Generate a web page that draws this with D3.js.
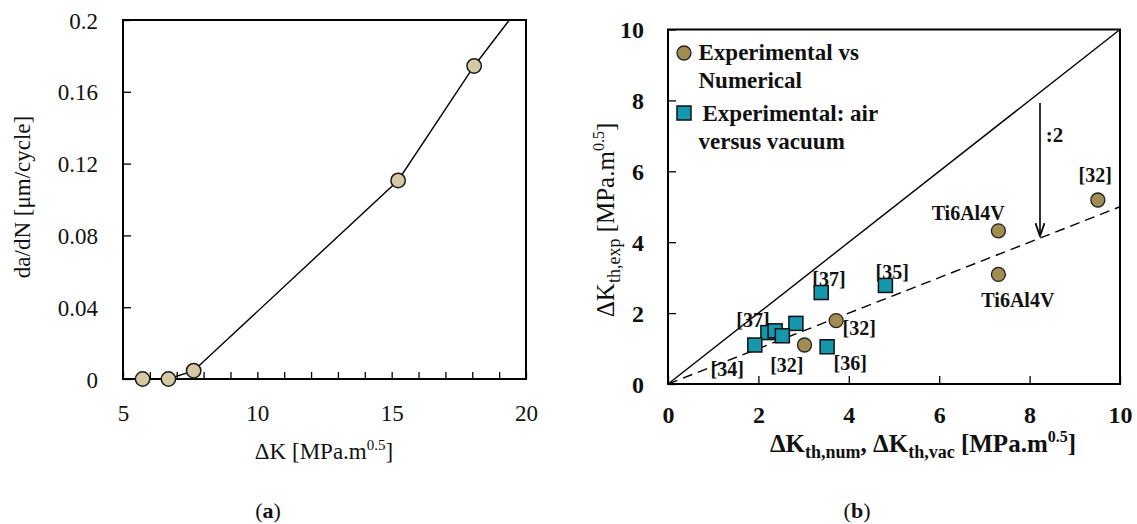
<!DOCTYPE html>
<html>
<head>
<meta charset="utf-8">
<script src="https://cdn.jsdelivr.net/npm/d3@7"></script>
<style>
  html, body { margin: 0; padding: 0; background: #fff; }
  svg { display: block; font-family: "Liberation Serif", "Times New Roman", serif; }
</style>
</head>
<body>
<svg id="fig" width="1137" height="524"></svg>
<script>
// ---- (a) crack growth rate vs stress intensity range ----
const growthDeltaK = [5.73, 6.69, 7.63, 15.24, 18.07];
const growthRate   = [0, 0, 0.0046, 0.1106, 0.1744];
// fitted curve continues past the last measurement up to the frame top
const curveDeltaK  = [5.73, 6.69, 7.63, 15.24, 18.07, 19.38];
const curveRate    = [0, 0, 0.0046, 0.1106, 0.1744, 0.2];
const aXTicks = [5, 6, 7, 8, 9, 10, 11, 12, 13, 14, 15, 16, 17, 18, 19, 20];
const aXLabels = [5, 10, 15, 20];
const aYTicks = [0, 0.04, 0.08, 0.12, 0.16, 0.2];

// ---- (b) thresholds: experimental vs numerical / vacuum ----
const numX = [9.51, 7.31, 7.31, 3.72, 3.02];
const numY = [5.19, 4.32, 3.09, 1.79, 1.10];
const vacX = [3.39, 4.81, 2.83, 2.21, 2.37, 2.53, 1.92, 3.52];
const vacY = [2.58, 2.78, 1.71, 1.45, 1.50, 1.36, 1.10, 1.05];
const bTicks = [0, 2, 4, 6, 8, 10];
const unityLine = [[0, 0], [10, 10]];
const halfLine  = [[0, 0], [10, 5]];
const factorArrow = [[8.23, 7.93], [8.23, 4.17]];
const refLabels = ["[32]", "Ti6Al4V", "Ti6Al4V", "[35]", "[37]", "[37]", "[32]", "[32]", "[36]", "[34]"];
const refLabelX = [9.45, 6.64, 7.74, 4.96, 3.56, 1.88, 4.23, 2.63, 4.03, 1.31];
const refLabelY = [5.70, 4.63, 2.17, 2.96, 2.76, 1.61, 1.38, 0.34, 0.39, 0.23];

const svg = d3.select("#fig");

// =================== panel (a) ===================
const xa = d3.scaleLinear().domain([5, 20]).range([123, 526]);
const ya = d3.scaleLinear().domain([0, 0.2]).range([379, 20]);
const ga = svg.append("g");

const axA = ga.append("g").attr("transform", `translate(0,${ya(0)})`)
  .call(d3.axisBottom(xa).tickValues(aXTicks).tickSize(-7)
    .tickFormat(d => aXLabels.includes(d) ? d : ""));
axA.select(".domain").remove();
axA.selectAll("line").attr("stroke", "#000").attr("stroke-width", 1.3);
axA.selectAll("text").attr("y", 34).attr("dy", "0.35em")
  .attr("font-size", 23).attr("font-family", "Liberation Serif").attr("fill", "#111");

const ayA = ga.append("g").attr("transform", `translate(${xa(5)},0)`)
  .call(d3.axisLeft(ya).tickValues(aYTicks).tickSize(-8).tickPadding(25)
    .tickFormat(d => d === 0 ? "0" : String(+d.toFixed(2))));
ayA.select(".domain").remove();
ayA.selectAll("line").attr("stroke", "#000").attr("stroke-width", 1.3);
ayA.selectAll("text").attr("dy", "0.35em")
  .attr("font-size", 23).attr("font-family", "Liberation Serif").attr("fill", "#111");

ga.append("rect").attr("x", xa(5)).attr("y", ya(0.2))
  .attr("width", xa(20) - xa(5)).attr("height", ya(0) - ya(0.2))
  .attr("fill", "none").attr("stroke", "#000").attr("stroke-width", 2);

ga.append("path")
  .datum(d3.zip(curveDeltaK, curveRate))
  .attr("d", d3.line().x(d => xa(d[0])).y(d => ya(d[1])))
  .attr("fill", "none").attr("stroke", "#000").attr("stroke-width", 1.4);

ga.selectAll("circle.pt").data(d3.zip(growthDeltaK, growthRate)).join("circle")
  .attr("class", "pt")
  .attr("cx", d => xa(d[0])).attr("cy", d => ya(d[1])).attr("r", 7.2)
  .attr("fill", "#d3c9a4").attr("stroke", "#1a1a1a").attr("stroke-width", 1.5);

ga.append("text").attr("x", 324).attr("y", 459).attr("text-anchor", "middle")
  .attr("font-size", 23).attr("fill", "#111")
  .call(t => {
    t.append("tspan").text("ΔK [MPa.m");
    t.append("tspan").attr("dy", -9).attr("font-size", 15).text("0.5");
    t.append("tspan").attr("dy", 9).text("]");
  });

ga.append("text").attr("transform", "translate(30,197) rotate(-90)")
  .attr("text-anchor", "middle").attr("font-size", 23).attr("fill", "#111")
  .text("da/dN [μm/cycle]");

ga.append("text").attr("x", 268).attr("y", 518).attr("text-anchor", "middle")
  .attr("font-size", 22).attr("fill", "#111")
  .call(t => {
    t.append("tspan").text("(");
    t.append("tspan").attr("font-weight", "bold").text("a");
    t.append("tspan").text(")");
  });

// =================== panel (b) ===================
const xb = d3.scaleLinear().domain([0, 10]).range([668, 1120]);
const yb = d3.scaleLinear().domain([0, 10]).range([384, 29.5]);
const gb = svg.append("g");

const axB = gb.append("g").attr("transform", `translate(0,${yb(0)})`)
  .call(d3.axisBottom(xb).tickValues(bTicks).tickSize(-8));
axB.select(".domain").remove();
axB.selectAll("line").attr("stroke", "#000").attr("stroke-width", 1.3);
axB.selectAll("text").attr("y", 31).attr("dy", "0.35em")
  .attr("font-size", 24).attr("font-weight", "bold")
  .attr("font-family", "Liberation Serif").attr("fill", "#111");

const ayB = gb.append("g").attr("transform", `translate(${xb(0)},0)`)
  .call(d3.axisLeft(yb).tickValues(bTicks).tickSize(-8).tickPadding(24));
ayB.select(".domain").remove();
ayB.selectAll("line").attr("stroke", "#000").attr("stroke-width", 1.3);
ayB.selectAll("text").attr("dy", "0.35em")
  .attr("font-size", 24).attr("font-weight", "bold")
  .attr("font-family", "Liberation Serif").attr("fill", "#111");

gb.append("rect").attr("x", xb(0)).attr("y", yb(10))
  .attr("width", xb(10) - xb(0)).attr("height", yb(0) - yb(10))
  .attr("fill", "none").attr("stroke", "#000").attr("stroke-width", 2);

const lineB = d3.line().x(d => xb(d[0])).y(d => yb(d[1]));
gb.append("path").datum(unityLine).attr("d", lineB)
  .attr("fill", "none").attr("stroke", "#000").attr("stroke-width", 1.4);
gb.append("path").datum(halfLine).attr("d", lineB)
  .attr("fill", "none").attr("stroke", "#000").attr("stroke-width", 1.4)
  .attr("stroke-dasharray", "10,6");

// factor-of-two arrow (marker x-axis follows the path direction)
svg.append("defs").append("marker")
  .attr("id", "arrowHead").attr("viewBox", "0 0 14 10")
  .attr("refX", 13).attr("refY", 5).attr("markerWidth", 14).attr("markerHeight", 10)
  .attr("markerUnits", "userSpaceOnUse").attr("orient", "auto")
  .append("path").attr("d", "M0,0.5 L13,5 L0,9.5").attr("fill", "none")
  .attr("stroke", "#000").attr("stroke-width", 1.8);
gb.append("path").datum(factorArrow).attr("d", lineB)
  .attr("fill", "none").attr("stroke", "#000").attr("stroke-width", 1.6)
  .attr("marker-end", "url(#arrowHead)");
gb.append("text").attr("x", xb(8.36)).attr("y", yb(6.83))
  .attr("font-size", 21).attr("font-weight", "bold").attr("fill", "#111").text(":2");

// reference labels
gb.selectAll("text.ref").data(d3.zip(refLabels, refLabelX, refLabelY)).join("text")
  .attr("class", "ref").attr("x", d => xb(d[1])).attr("y", d => yb(d[2]))
  .attr("text-anchor", "middle").attr("font-size", 20).attr("font-weight", "bold")
  .attr("fill", "#111").text(d => d[0]);

// air vs vacuum squares
const sq = 14;
gb.selectAll("rect.vac").data(d3.zip(vacX, vacY)).join("rect")
  .attr("class", "vac")
  .attr("x", d => xb(d[0]) - sq / 2).attr("y", d => yb(d[1]) - sq / 2)
  .attr("width", sq).attr("height", sq)
  .attr("fill", "#1597ae").attr("stroke", "#111").attr("stroke-width", 1.5);

// numerical comparison circles
gb.selectAll("circle.num").data(d3.zip(numX, numY)).join("circle")
  .attr("class", "num")
  .attr("cx", d => xb(d[0])).attr("cy", d => yb(d[1])).attr("r", 7)
  .attr("fill", "#a08d52").attr("stroke", "#222").attr("stroke-width", 1.3);

// legend
const lg = gb.append("g").attr("transform", `translate(${xb(0)},${yb(10)})`)
  .attr("font-size", 23).attr("font-weight", "bold").attr("fill", "#111");
lg.append("circle").attr("cx", 16).attr("cy", 23.5).attr("r", 7)
  .attr("fill", "#a08d52").attr("stroke", "#222").attr("stroke-width", 1.3);
lg.append("text").attr("x", 30.5).attr("y", 30.5).text("Experimental vs");
lg.append("text").attr("x", 30.5).attr("y", 58.5).text("Numerical");
lg.append("rect").attr("x", 16 - sq / 2).attr("y", 83.5 - sq / 2).attr("width", sq).attr("height", sq)
  .attr("fill", "#1597ae").attr("stroke", "#111").attr("stroke-width", 1.5);
lg.append("text").attr("x", 34.5).attr("y", 91).text("Experimental: air");
lg.append("text").attr("x", 30.5).attr("y", 119).text("versus vacuum");

// axis titles
gb.append("text").attr("x", 923).attr("y", 452).attr("text-anchor", "middle")
  .attr("font-size", 25).attr("font-weight", "bold").attr("fill", "#111")
  .call(t => {
    t.append("tspan").text("ΔK");
    t.append("tspan").attr("dy", 6).attr("font-size", 18).text("th,num");
    t.append("tspan").attr("dy", -6).text(", ΔK");
    t.append("tspan").attr("dy", 6).attr("font-size", 18).text("th,vac");
    t.append("tspan").attr("dy", -6).text(" [MPa.m");
    t.append("tspan").attr("dy", -10).attr("font-size", 16).text("0.5");
    t.append("tspan").attr("dy", 10).text("]");
  });

gb.append("text").attr("transform", "translate(614,220) rotate(-90)")
  .attr("text-anchor", "middle").attr("font-size", 25).attr("fill", "#111")
  .call(t => {
    t.append("tspan").text("ΔK");
    t.append("tspan").attr("dy", 6).attr("font-size", 18).text("th,exp");
    t.append("tspan").attr("dy", -6).text(" [MPa.m");
    t.append("tspan").attr("dy", -10).attr("font-size", 16).text("0.5");
    t.append("tspan").attr("dy", 10).text("]");
  });

gb.append("text").attr("x", 857).attr("y", 518).attr("text-anchor", "middle")
  .attr("font-size", 22).attr("fill", "#111")
  .call(t => {
    t.append("tspan").text("(");
    t.append("tspan").attr("font-weight", "bold").text("b");
    t.append("tspan").text(")");
  });
</script>
</body>
</html>
